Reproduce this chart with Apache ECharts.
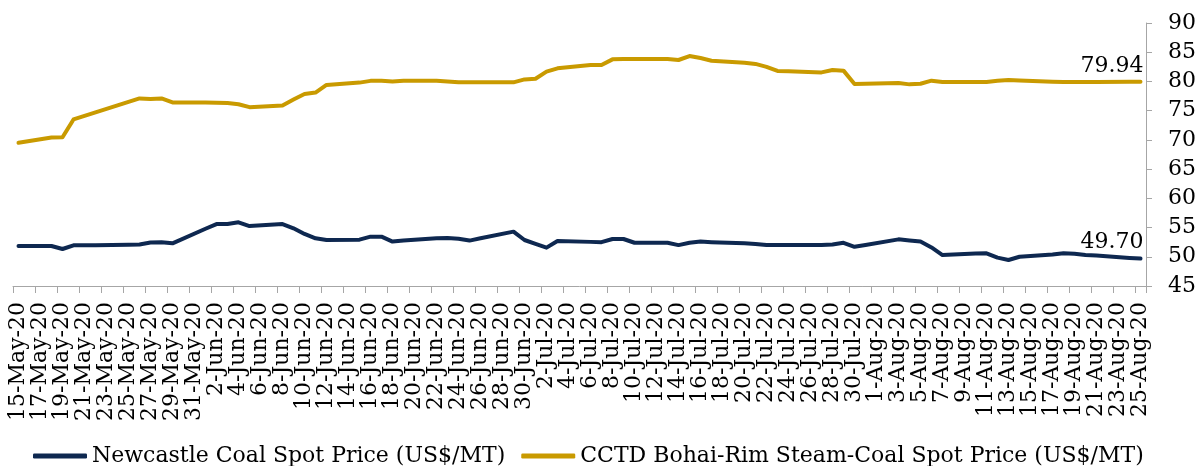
<!DOCTYPE html>
<html>
<head>
<meta charset="utf-8">
<script src="https://cdn.jsdelivr.net/npm/echarts@6/dist/echarts.min.js"></script>
<style>
html,body{margin:0;padding:0;background:#fff;}
#chart{width:1202px;height:466px;}
</style>
</head>
<body>
<div id="chart"></div>
<script>
const categories = [
"15-May-20","16-May-20","17-May-20","18-May-20","19-May-20","20-May-20","21-May-20","22-May-20","23-May-20","24-May-20",
"25-May-20","26-May-20","27-May-20","28-May-20","29-May-20","30-May-20","31-May-20",
"1-Jun-20","2-Jun-20","3-Jun-20","4-Jun-20","5-Jun-20","6-Jun-20","7-Jun-20","8-Jun-20","9-Jun-20","10-Jun-20",
"11-Jun-20","12-Jun-20","13-Jun-20","14-Jun-20","15-Jun-20","16-Jun-20","17-Jun-20","18-Jun-20","19-Jun-20","20-Jun-20",
"21-Jun-20","22-Jun-20","23-Jun-20","24-Jun-20","25-Jun-20","26-Jun-20","27-Jun-20","28-Jun-20","29-Jun-20","30-Jun-20",
"1-Jul-20","2-Jul-20","3-Jul-20","4-Jul-20","5-Jul-20","6-Jul-20","7-Jul-20","8-Jul-20","9-Jul-20","10-Jul-20",
"11-Jul-20","12-Jul-20","13-Jul-20","14-Jul-20","15-Jul-20","16-Jul-20","17-Jul-20","18-Jul-20","19-Jul-20","20-Jul-20",
"21-Jul-20","22-Jul-20","23-Jul-20","24-Jul-20","25-Jul-20","26-Jul-20","27-Jul-20","28-Jul-20","29-Jul-20","30-Jul-20","31-Jul-20",
"1-Aug-20","2-Aug-20","3-Aug-20","4-Aug-20","5-Aug-20","6-Aug-20","7-Aug-20","8-Aug-20","9-Aug-20","10-Aug-20",
"11-Aug-20","12-Aug-20","13-Aug-20","14-Aug-20","15-Aug-20","16-Aug-20","17-Aug-20","18-Aug-20","19-Aug-20","20-Aug-20",
"21-Aug-20","22-Aug-20","23-Aug-20","24-Aug-20","25-Aug-20"
];

// Newcastle Coal Spot Price (US$/MT), weekdays only (null = no quote)
const newcastle = [
51.84,null,null,51.84,51.33,51.96,51.97,51.98,null,null,
52.05,52.10,52.45,52.50,52.30,null,null,
54.80,55.60,55.60,55.90,55.26,null,null,55.60,54.87,53.90,
53.16,52.87,null,null,52.93,53.44,53.44,52.60,52.80,null,
null,53.16,53.20,53.10,52.77,53.16,null,null,54.30,52.87,
52.20,51.56,52.70,null,null,52.55,52.50,53.04,53.04,52.40,
null,null,52.40,52.00,52.40,52.60,52.50,null,null,52.30,
52.20,52.00,52.00,52.00,null,null,52.00,52.10,52.40,51.70,52.00,
null,null,52.98,52.80,52.60,51.60,50.30,null,null,50.55,
50.60,49.85,49.45,50.00,null,null,50.40,50.60,50.50,50.30,
50.20,null,null,49.80,49.70
];

// CCTD Bohai-Rim Steam-Coal Spot Price (US$/MT)
const cctd = [
69.50,null,null,70.40,70.45,73.50,74.10,74.70,null,null,
76.50,77.10,77.00,77.10,76.40,null,null,
76.40,76.35,76.30,76.10,75.60,null,null,75.90,76.90,77.85,
78.10,79.40,null,null,79.80,80.10,80.10,80.00,80.10,null,
null,80.10,80.00,79.85,79.85,79.85,null,null,79.85,80.35,
80.47,81.67,82.25,null,null,82.80,82.80,83.78,83.85,83.85,
null,null,83.85,83.67,84.35,84.00,83.55,null,null,83.20,
83.00,82.50,81.80,81.75,null,null,81.55,81.95,81.85,79.56,79.60,
null,null,79.73,79.50,79.60,80.13,79.90,null,null,79.90,
79.90,80.10,80.25,80.15,null,null,79.95,79.90,79.90,79.90,
79.92,null,null,79.93,79.94
];

const seriesNames = ["Newcastle Coal Spot Price (US$/MT)", "CCTD Bohai-Rim Steam-Coal Spot Price (US$/MT)"];
const yTicks = {min: 45, max: 90, interval: 5};

const FONT = "DejaVu Serif";
const NAVY = "#0e2850";
const GOLD = "#c99a00";
const AXIS = "#a6a6a6";

function lastLabel(arr) {
  return arr.map((v, i) => i === arr.length - 1 ? {
    value: v,
    label: {
      show: true, position: 'top', align: 'right', distance: 5, offset: [3, 0],
      formatter: (p) => p.value.toFixed(2),
      fontFamily: FONT, fontSize: 22, color: '#000'
    }
  } : v);
}

const chart = echarts.init(document.getElementById('chart'), null, {renderer: 'canvas'});
chart.setOption({
  animation: false,
  backgroundColor: '#fff',
  textStyle: {fontFamily: FONT},
  grid: {left: 13, right: 56, top: 23, bottom: 180, containLabel: false},
  legend: {
    left: 28, top: 440, itemGap: 16, itemWidth: 54, itemHeight: 5,
    icon: 'roundRect',
    textStyle: {fontFamily: FONT, fontSize: 22, color: '#000'},
    data: seriesNames
  },
  xAxis: {
    type: 'category',
    data: categories,
    boundaryGap: true,
    axisLine: {show: true, lineStyle: {color: AXIS, width: 1}},
    axisTick: {show: true, length: 7, interval: 1, lineStyle: {color: AXIS}},
    axisLabel: {interval: 1, rotate: 90, margin: 16, fontFamily: FONT, fontSize: 22, color: '#000'},
    splitLine: {show: false}
  },
  yAxis: {
    type: 'value',
    position: 'right',
    min: yTicks.min, max: yTicks.max, interval: yTicks.interval,
    axisLine: {show: true, lineStyle: {color: AXIS, width: 1}},
    axisTick: {show: true, length: 6, lineStyle: {color: AXIS}},
    axisLabel: {margin: 22, fontFamily: FONT, fontSize: 22, color: '#000'},
    splitLine: {show: false}
  },
  series: [
    {
      name: seriesNames[0], type: 'line', data: lastLabel(newcastle),
      connectNulls: true, showSymbol: true, symbol: 'circle', symbolSize: 0,
      itemStyle: {color: NAVY},
      lineStyle: {color: NAVY, width: 4, cap: 'round', join: 'round'}
    },
    {
      name: seriesNames[1], type: 'line', data: lastLabel(cctd),
      connectNulls: true, showSymbol: true, symbol: 'circle', symbolSize: 0,
      itemStyle: {color: GOLD},
      lineStyle: {color: GOLD, width: 4, cap: 'round', join: 'round'}
    }
  ]
});
</script>
</body>
</html>
